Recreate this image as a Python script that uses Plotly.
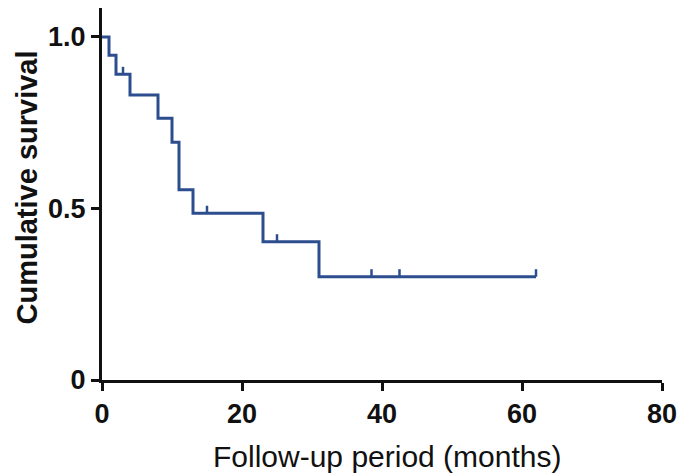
import plotly.graph_objects as go

# Kaplan-Meier step data (months, cumulative survival)
event_times = [0, 1, 2, 4, 8, 10, 11, 13, 23, 31, 62]
survival = [1.0, 0.947, 0.891, 0.831, 0.763, 0.693, 0.555, 0.486, 0.403, 0.301, 0.301]

# censored observations
censor_times = [3, 15, 25, 38.5, 42.5, 62]
censor_surv = [0.891, 0.486, 0.403, 0.301, 0.301, 0.301]

x_ticks = [0, 20, 40, 60, 80]
y_ticks = [0, 0.5, 1.0]
y_tick_labels = ["0", "0.5", "1.0"]

line_color = "#2D4E8E"
ink = "#111111"
fam = "Liberation Sans, Arial, sans-serif"

fig = go.Figure()
fig.add_trace(go.Scatter(
    x=event_times, y=survival, mode="lines", line_shape="hv",
    line=dict(color=line_color, width=3), showlegend=False, hoverinfo="skip",
))
fig.add_trace(go.Scatter(
    x=censor_times, y=censor_surv, mode="markers",
    marker=dict(size=1, color=line_color, opacity=0),
    error_y=dict(type="constant", value=0.022, symmetric=False, valueminus=0,
                 width=0, thickness=2.5, color=line_color),
    showlegend=False, hoverinfo="skip",
))

tickfont = dict(family=fam, size=27, color=ink, weight="bold")

fig.update_layout(
    width=685, height=475,
    margin=dict(l=94, r=31, t=0, b=103),
    paper_bgcolor="white", plot_bgcolor="white",
    xaxis=dict(
        range=[0, 80], tickvals=x_ticks, ticktext=[str(v) for v in x_ticks],
        showgrid=False, zeroline=False, showline=True, linecolor=ink, linewidth=3,
        ticks="outside", ticklen=8, tickwidth=3, tickcolor=ink,
        tickfont=tickfont, automargin=False,
    ),
    yaxis=dict(
        range=[0, 1.0845], tickvals=y_ticks, ticktext=y_tick_labels,
        showgrid=False, zeroline=False, showline=True, linecolor=ink, linewidth=3,
        ticks="outside", ticklen=8, tickwidth=3, tickcolor=ink,
        tickfont=tickfont, automargin=False,
    ),
    annotations=[
        dict(text="Follow-up period (months)", xref="paper", yref="paper",
             x=0.5, y=0, xanchor="center", yanchor="top", yshift=-58, xshift=5,
             showarrow=False, font=dict(family=fam, size=30, color=ink)),
        dict(text="Cumulative survival", xref="paper", yref="paper",
             x=0, y=0.5175, xanchor="center", yanchor="middle", xshift=-75,
             textangle=-90, showarrow=False,
             font=dict(family=fam, size=29, color=ink, weight="bold")),
    ],
)

fig.write_html("out.html")
